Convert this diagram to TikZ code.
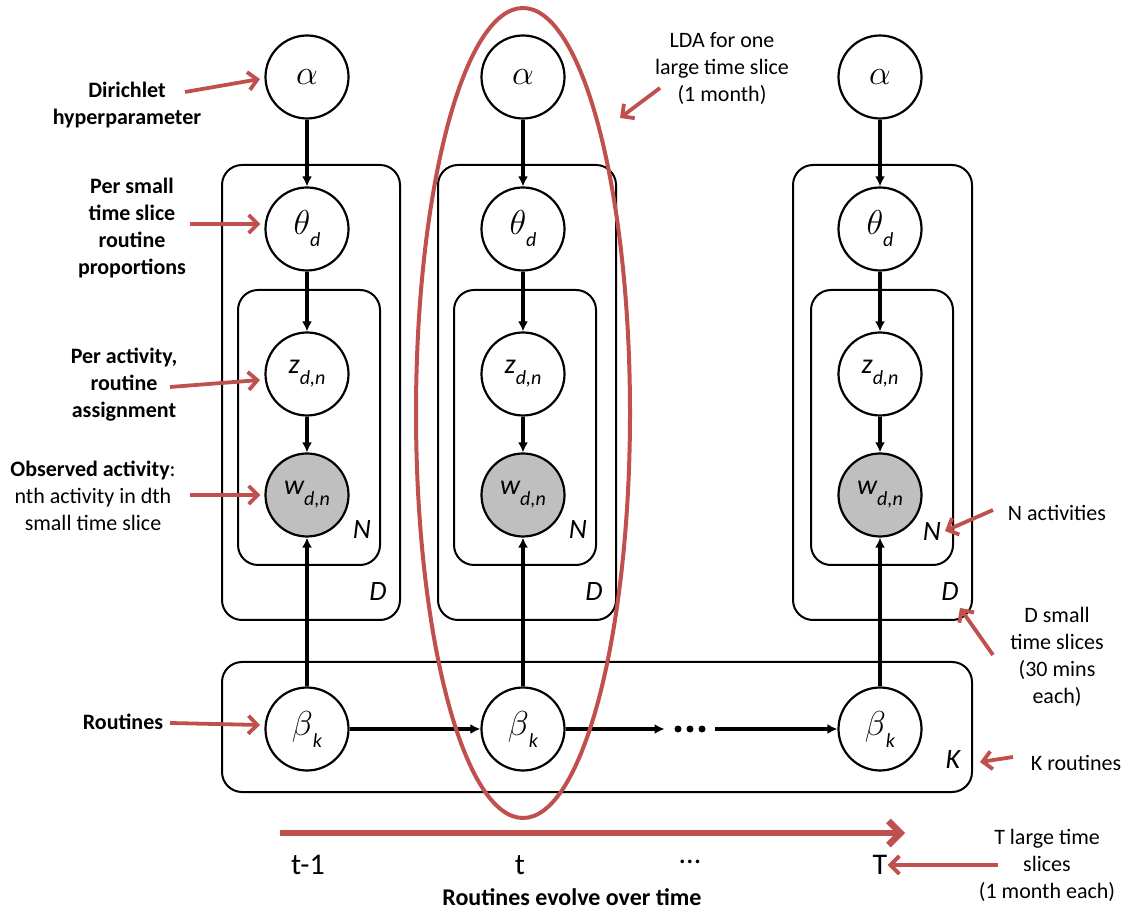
\documentclass[tikz,border=0pt]{standalone}
\usepackage{fontspec}
\setmainfont{Carlito}
\usetikzlibrary{arrows.meta,shapes.geometric}
\definecolor{rd}{RGB}{192,80,77}
\newcommand\mysub[2][-6pt]{\raisebox{#1}{\fontsize{10}{10}\selectfont\itshape #2}}
\newcommand\latvar[2]{{\fontsize{14}{14}\selectfont\itshape #1}\mysub[-5.5pt]{#2}}
\begin{document}
\begin{tikzpicture}[x=0.5pt,y=-0.5pt,
  var/.style={circle,draw,line width=1.1pt,minimum size=41.5pt,inner sep=0pt,font=\fontsize{17}{17}\selectfont},
  obs/.style={var,fill=black!25},
  plate/.style={draw,line width=1pt,rounded corners=10pt},
  edge/.style={-{Latex[length=5pt,width=5pt]},line width=1.8pt},
  redarr/.style={-{Straight Barb[length=4.5pt,width=9pt]},line width=1.9pt,draw=rd},
  bigarr/.style={-{Straight Barb[length=6pt,width=12pt]},line width=3.2pt,draw=rd},
  lbl/.style={align=center,inner sep=0pt,font=\fontsize{11}{13.5}\selectfont},
  blbl/.style={lbl,font=\fontsize{11}{13.5}\selectfont\bfseries},
  plab/.style={inner sep=0pt,font=\fontsize{14}{14}\selectfont\itshape},
  tlab/.style={inner sep=0pt,font=\fontsize{15}{15}\selectfont}
]
\useasboundingbox (0,0) rectangle (1129,913);

% plates
\draw[plate] (222,165) rectangle (400,620);
\draw[plate] (238,290) rectangle (380,565);
\draw[plate] (438,165) rectangle (616,620);
\draw[plate] (454,290) rectangle (596,565);
\draw[plate] (793,165) rectangle (972,620);
\draw[plate] (811,290) rectangle (953,565);
\draw[plate] (222,662) rectangle (972,792);

\node[plab] (N1) at (362,530) {N};
\node[plab] (D1) at (378,592) {D};
\node[plab] (N2) at (578,530) {N};
\node[plab] (D2) at (594,592) {D};
\node[plab] (N3) at (932,532) {N};
\node[plab] (D3) at (950,592) {D};
\node[plab] (K)  at (953,760) {K};

% columns
\foreach \c/\x in {1/307,2/523,3/880}{
  \node[var] (a\c) at (\x,77) {$\alpha$};
  \node[var] (t\c) at (\x,229) {$\theta$\mysub{d}};
  \node[var] (z\c) at (\x,374) {\latvar{z}{d,n}};
  \node[obs] (w\c) at (\x,495) {\latvar{w}{d,n}};
  \node[var] (b\c) at (\x,729) {$\beta$\mysub{k}};
  \draw[edge] (a\c) -- (t\c);
  \draw[edge] (t\c) -- (z\c);
  \draw[edge] (z\c) -- (w\c);
  \draw[edge] (b\c) -- (w\c);
}
\node[minimum width=25pt,minimum height=5pt,inner sep=0pt] (dots) at (690,729) {};
\foreach \xx in {678,690,702}{\fill (\xx,729) circle (3.5);}
\draw[edge] (b1) -- (b2);
\draw[edge] (b2) -- (dots.west);
\draw[edge] (dots.east) -- (b3);

% LDA ellipse
\draw[rd,line width=2pt] (523,413) ellipse [x radius=107, y radius=405];

% left labels
\node[blbl] (ldir) at (127,105.5) {Dirichlet\\hyperparameter};
\node[blbl] (lth) at (132,228) {Per small\\time slice\\routine\\proportions};
\node[blbl] (lz) at (124,385) {Per activity,\\routine\\assignment};
\node[lbl] (lw) at (93,496) {\textbf{Observed activity}:\\nth activity in dth\\small time slice};
\node[blbl] (lb) at (123,722) {Routines};

\coordinate (c1) at (185,92);
\coordinate (c2) at (190,224);
\coordinate (c3) at (170,387);
\coordinate (c4) at (190,495);
\coordinate (c5) at (170,723);
\draw[redarr] (c1) -- (260,79);
\draw[redarr] (c2) -- ([xshift=-2pt]t1.west |- c2);
\draw[redarr] (c3) -- (260,380);
\draw[redarr] (c4) -- ([xshift=-2pt]w1.west |- c4);
\draw[redarr] (c5) -- (260,725);

% right labels
\node[lbl] (llda) at (722,68.5) {LDA for one\\large time slice\\(1 month)};
\node[lbl] (lN) at (1057,513) {N activities};
\node[lbl] (lD) at (1057,656.5) {D small\\time slices\\(30 mins\\each)};
\node[lbl] (lK) at (1076,763) {K routines};
\node[lbl] (lT) at (1047,865.5) {T large time\\slices\\(1 month each)};

\coordinate (r1) at (660,88);
\coordinate (r2) at (993,510);
\coordinate (r3) at (993,655);
\coordinate (r4) at (1013,757);
\coordinate (r5) at (998,865);
\draw[redarr] (r1) -- (620,118);
\draw[redarr] (r2) -- (945,531);
\draw[redarr] (r3) -- (960,608);
\draw[redarr] (r4) -- (980,762);

% time axis
\node[tlab] (tm1) at (308,865) {t-1};
\node[tlab] (tt) at (520,865) {t};
\node[tlab] (tdots) at (690,862) {...};
\node[tlab] (tT) at (880,865) {T};
\draw[redarr] (r5) -- (tT.east);
\coordinate (ax0) at (280,833);
\coordinate (ax1) at (905,833);
\draw[bigarr] (ax0) -- (ax1);
\node[blbl,font=\fontsize{12}{14}\selectfont\bfseries] (evo) at (572,897) {Routines evolve over time};
\end{tikzpicture}
\end{document}
